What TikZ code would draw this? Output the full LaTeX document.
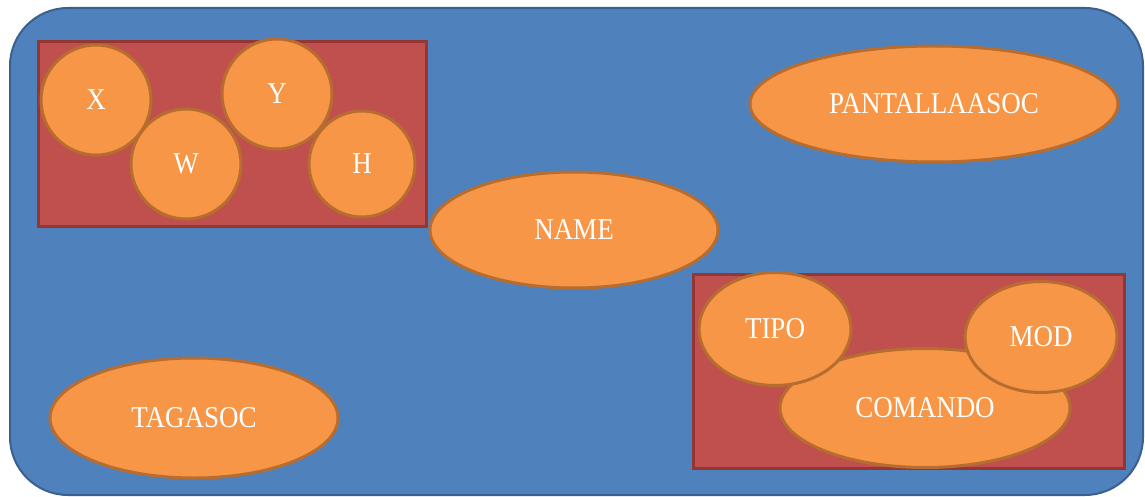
\documentclass[tikz,border=0pt]{standalone}
\usepackage{fontspec}
\setmainfont{Liberation Serif}
\usetikzlibrary{shapes.geometric}
\definecolor{bgblue}{HTML}{4F81BD}
\definecolor{bgblueline}{HTML}{3A6090}
\definecolor{boxred}{HTML}{C0504D}
\definecolor{boxredline}{HTML}{943634}
\definecolor{orfill}{HTML}{F79646}
\definecolor{orline}{HTML}{B66D2F}
\newcommand{\lbl}[1]{\scalebox{1}[1.12]{#1}}
\tikzset{
  outerbox/.style={fill=bgblue, draw=bgblueline, line width=2pt, rounded corners=58pt},
  groupbox/.style={fill=boxred, draw=boxredline, line width=3pt},
  attr/.style={fill=orfill, draw=orline, line width=3pt, text=white, inner sep=0pt,
    font=\fontsize{27}{30}\selectfont},
  attrcirc/.style={attr, circle},
  attrell/.style={attr, ellipse}
}
\begin{document}
\begin{tikzpicture}[x=1pt,y=-1pt]
\useasboundingbox (0,0) rectangle (1145,497);
\draw[outerbox] (10,8) rectangle (1143,495);
% left group
\draw[groupbox] (38,42) rectangle (426,226);
\node[attrcirc, minimum size=110pt] (x) at (96,100) {\lbl{X}};
\node[attrcirc, minimum size=110pt] (w) at (186,164) {\lbl{W}};
\node[attrcirc, minimum size=110pt] (y) at (277,94) {\lbl{Y}};
\node[attrcirc, minimum size=106pt] (h) at (362,164) {\lbl{H}};
% single attributes
\node[attrell, minimum width=288pt, minimum height=116pt] (name) at (574,230) {\lbl{NAME}};
\node[attrell, minimum width=368pt, minimum height=116pt] (pant) at (934,104) {\lbl{PANTALLAASOC}};
\node[attrell, minimum width=288pt, minimum height=120pt] (tag) at (194,418) {\lbl{TAGASOC}};
% right group
\draw[groupbox] (693,274) rectangle (1124,468);
\node[attrell, minimum width=290pt, minimum height=119pt] (comando) at (925,408) {\lbl{COMANDO}};
\node[attrell, minimum width=152pt, minimum height=113pt] (tipo) at (775,329) {\lbl{TIPO}};
\node[attrell, minimum width=152pt, minimum height=111pt] (mod) at (1041,337) {\lbl{MOD}};
\end{tikzpicture}
\end{document}
